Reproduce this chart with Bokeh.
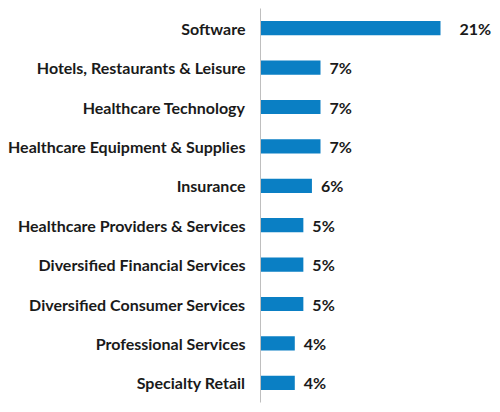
from bokeh.plotting import figure
from bokeh.models import ColumnDataSource, Range1d, FactorRange
from bokeh.core.properties import value
from bokeh.embed import file_html
from bokeh.resources import INLINE

# Sector weights (%)
sectors = [
    "Software",
    "Hotels, Restaurants & Leisure",
    "Healthcare Technology",
    "Healthcare Equipment & Supplies",
    "Insurance",
    "Healthcare Providers & Services",
    "Diversified Financial Services",
    "Diversified Consumer Services",
    "Professional Services",
    "Specialty Retail",
]
weights = [21, 7, 7, 7, 6, 5, 5, 5, 4, 4]
labels = [f"{w}%" for w in weights]

FONT = "Lato"
TEXT_COLOR = "#1a1a1a"
BAR_COLOR = "#0A7FC4"

# label offsets: the widest bar's label sits a bit further out
offsets = [19 if w == max(weights) else 9 for w in weights]

source = ColumnDataSource(dict(sector=sectors, weight=weights, label=labels, off=offsets))

p = figure(
    width=500, height=412,
    y_range=FactorRange(factors=list(reversed(sectors))),
    x_range=Range1d(0, 28),
    output_backend="svg", toolbar_location=None,
    min_border_left=260, min_border_right=0, min_border_top=8, min_border_bottom=10,
)

p.hbar(y="sector", right="weight", left=0, height=0.36, source=source,
       fill_color=BAR_COLOR, line_color=None)

p.text(x="weight", y="sector", text="label", source=source,
       x_offset="off", text_align="left", text_baseline="middle",
       text_font=value(FONT), text_font_size="16px", text_font_style="bold",
       text_color=TEXT_COLOR)

p.xaxis.visible = False
p.xgrid.visible = False
p.ygrid.visible = False
p.outline_line_color = None

yax = p.yaxis[0]
yax.axis_line_color = "#BFBFBF"
yax.axis_line_width = 1
yax.major_tick_line_color = None
yax.minor_tick_line_color = None
yax.major_tick_out = 0
yax.major_tick_in = 0
yax.major_label_standoff = 15
yax.major_label_text_font = FONT
yax.major_label_text_font_size = "16px"
yax.major_label_text_font_style = "bold"
yax.major_label_text_color = TEXT_COLOR

open("out.html", "w").write(file_html(p, INLINE))
